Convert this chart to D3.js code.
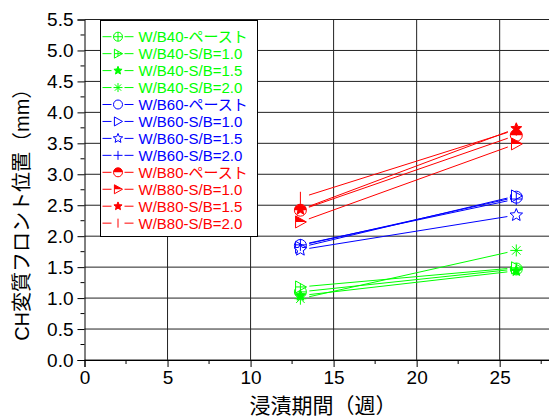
<!DOCTYPE html>
<meta charset="utf-8">
<script src="https://cdn.jsdelivr.net/npm/d3@7"></script>
<style>
  body { margin: 0; background: #fff; }
  text { font-family: "Liberation Sans", Arial, "Noto Sans CJK JP", sans-serif; }
</style>
<div id="chart"></div>
<script>
  // immersion period (weeks)
  const weeks = [13, 26];

  // series labels
  const names40 = ["W/B40-ペースト", "W/B40-S/B=1.0", "W/B40-S/B=1.5", "W/B40-S/B=2.0"];
  const names60 = ["W/B60-ペースト", "W/B60-S/B=1.0", "W/B60-S/B=1.5", "W/B60-S/B=2.0"];
  const names80 = ["W/B80-ペースト", "W/B80-S/B=1.0", "W/B80-S/B=1.5", "W/B80-S/B=2.0"];

  // CH front position (mm) at 13 and 26 weeks
  const wb40 = [[1.10, 1.47], [1.18, 1.49], [1.04, 1.44], [0.99, 1.77]];
  const wb60 = [[1.85, 2.63], [1.82, 2.65], [1.78, 2.34], [1.86, 2.60]];
  const wb80 = [[2.42, 3.63], [2.23, 3.49], [2.43, 3.74], [2.62, 3.72]];

  const markers40 = ["circlePlus", "triPlus", "starFill", "asterisk"];
  const markers60 = ["circle", "tri", "star", "plus"];
  const markers80 = ["circleHalf", "triHalf", "starFill", "bar"];

  const xTicks = [0, 5, 10, 15, 20, 25];
  const yTicks = [0, 0.5, 1, 1.5, 2, 2.5, 3, 3.5, 4, 4.5, 5, 5.5];

  const series = [];
  [[names40, wb40, markers40, "#00ff00"],
   [names60, wb60, markers60, "#0000ff"],
   [names80, wb80, markers80, "#ff0000"]].forEach(([names, vals, mks, color]) => {
    names.forEach((n, i) => series.push({ name: n, values: vals[i], marker: mks[i], color }));
  });

  const width = 549, height = 416;
  const svg = d3.select("#chart").append("svg")
    .attr("width", width).attr("height", height);

  const x = d3.scaleLinear().domain([0, 28]).range([84.5, 549.5]);
  const y = d3.scaleLinear().domain([0, 5.5]).range([360, 19.5]);

  // grid
  svg.append("g").selectAll("line")
    .data(d3.range(0, 5.51, 0.5))
    .join("line")
    .attr("x1", x(0)).attr("x2", x(28))
    .attr("y1", d => y(d)).attr("y2", d => y(d))
    .attr("stroke", "#222").attr("stroke-width", 1);
  svg.append("g").selectAll("line")
    .data([5, 10, 15, 20, 25, 28])
    .join("line")
    .attr("x1", d => x(d)).attr("x2", d => x(d))
    .attr("y1", y(0)).attr("y2", y(5.5))
    .attr("stroke", "#222").attr("stroke-width", 1);

  // axes
  const xAxis = d3.axisBottom(x).tickValues(xTicks).tickSize(7).tickPadding(4).tickFormat(d3.format("d"));
  const gx = svg.append("g").attr("transform", `translate(0,${y(0)})`).call(xAxis);
  gx.append("g").selectAll("line")
    .data(d3.range(2.5, 28, 5))
    .join("line")
    .attr("x1", d => x(d)).attr("x2", d => x(d))
    .attr("y1", 0).attr("y2", 4).attr("stroke", "#000");

  const yAxis = d3.axisLeft(y).tickValues(yTicks).tickSize(7).tickPadding(4).tickFormat(d3.format(".1f"));
  const gy = svg.append("g").attr("transform", `translate(${x(0)},0)`).call(yAxis);
  gy.append("g").selectAll("line")
    .data(d3.range(0.25, 5.5, 0.5))
    .join("line")
    .attr("y1", d => y(d)).attr("y2", d => y(d))
    .attr("x1", 0).attr("x2", -4).attr("stroke", "#000");

  [gx, gy].forEach(g => {
    g.selectAll(".domain").attr("stroke", "#000");
    g.selectAll(".tick line").attr("stroke", "#000");
    g.selectAll(".tick text").attr("fill", "#000")
      .style("font-size", "19px").style("font-family", "'Liberation Sans', Arial, sans-serif");
  });

  // axis titles
  svg.append("text")
    .attr("x", 323)
    .attr("y", 413)
    .attr("text-anchor", "middle")
    .style("font-size", "21px")
    .text("浸漬期間（週）");

  svg.append("text")
    .attr("transform", `translate(29,${(y(0) + y(5.5)) / 2 + 20}) rotate(-90)`)
    .attr("text-anchor", "middle")
    .style("font-size", "20px")
    .text("CH変質フロント位置（mm）");

  // marker drawing
  function starPath(r) {
    const pts = [];
    for (let i = 0; i < 10; i++) {
      const a = -Math.PI / 2 + i * Math.PI / 5;
      const rr = i % 2 ? r * 0.45 : r;
      pts.push([rr * Math.cos(a), rr * Math.sin(a)]);
    }
    return "M" + pts.join("L") + "Z";
  }
  function triPath(r) {
    return `M${-r * 0.8},${-r}L${r},0L${-r * 0.8},${r}Z`;
  }
  function drawMarker(g, type, color, r) {
    const sw = 1;
    if (type === "circle" || type === "circlePlus" || type === "circleHalf") {
      g.append("circle").attr("r", r).attr("fill", "#fff").attr("stroke", color).attr("stroke-width", sw);
      if (type === "circleHalf") {
        g.append("path").attr("d", `M${-r},0A${r},${r} 0 0 1 ${r},0Z`).attr("fill", color);
      }
      if (type === "circlePlus") {
        g.append("path").attr("d", `M${-r},0H${r}M0,${-r}V${r}`).attr("stroke", color).attr("stroke-width", sw);
      }
    } else if (type === "tri" || type === "triPlus" || type === "triHalf") {
      g.append("path").attr("d", triPath(r)).attr("fill", "#fff").attr("stroke", color).attr("stroke-width", sw);
      if (type === "triHalf") {
        g.append("path").attr("d", `M${-r * 0.8},${-r}L${r},0L${-r * 0.8},0Z`).attr("fill", color);
      }
      if (type === "triPlus") {
        g.append("path").attr("d", `M${-r * 0.8},0H${r}M0,${-r * 0.55}V${r * 0.55}`).attr("stroke", color).attr("stroke-width", sw);
      }
    } else if (type === "star") {
      g.append("path").attr("d", starPath(r * 1.1)).attr("fill", "#fff").attr("stroke", color).attr("stroke-width", sw);
    } else if (type === "starFill") {
      g.append("path").attr("d", starPath(r * 0.95)).attr("fill", color).attr("stroke", color).attr("stroke-width", sw);
    } else if (type === "asterisk") {
      let d = "";
      for (let i = 0; i < 4; i++) {
        const a = i * Math.PI / 4;
        d += `M${-r * Math.cos(a)},${-r * Math.sin(a)}L${r * Math.cos(a)},${r * Math.sin(a)}`;
      }
      g.append("path").attr("d", d).attr("stroke", color).attr("stroke-width", sw);
    } else if (type === "plus") {
      g.append("path").attr("d", `M${-r},0H${r}M0,${-r}V${r}`).attr("stroke", color).attr("stroke-width", sw);
    } else if (type === "bar") {
      g.append("path").attr("d", `M0,${-r}V${r}`).attr("stroke", color).attr("stroke-width", sw);
    }
  }

  // series lines (with a gap around each marker)
  const gap = 9;
  const plot = svg.append("g");
  series.forEach(s => {
    const p0 = [x(weeks[0]), y(s.values[0])];
    const p1 = [x(weeks[1]), y(s.values[1])];
    const dx = p1[0] - p0[0], dy = p1[1] - p0[1];
    const len = Math.hypot(dx, dy);
    const ux = dx / len, uy = dy / len;
    plot.append("line")
      .attr("x1", p0[0] + ux * gap).attr("y1", p0[1] + uy * gap)
      .attr("x2", p1[0] - ux * gap).attr("y2", p1[1] - uy * gap)
      .attr("stroke", s.color).attr("stroke-width", 1);
  });
  series.forEach(s => {
    weeks.forEach((w, i) => {
      const g = plot.append("g").attr("transform", `translate(${x(w)},${y(s.values[i])})`);
      drawMarker(g, s.marker, s.color, 6);
    });
  });

  // legend
  const legend = svg.append("g").attr("transform", "translate(100.5,20.5)");
  legend.append("rect")
    .attr("width", 157).attr("height", 216)
    .attr("fill", "#fff").attr("stroke", "#000").attr("stroke-width", 1);
  series.forEach((s, i) => {
    const row = legend.append("g").attr("transform", `translate(0,${16.2 + i * 16.95})`);
    row.append("path")
      .attr("d", "M2,0H11M24,0H33")
      .attr("stroke", s.color).attr("stroke-width", 1);
    drawMarker(row.append("g").attr("transform", "translate(17.5,0)"), s.marker, s.color, 4.5);
    row.append("text")
      .attr("x", 38).attr("y", 5.5)
      .attr("fill", s.color)
      .style("font-size", "15px")
      .text(s.name);
  });
</script>
